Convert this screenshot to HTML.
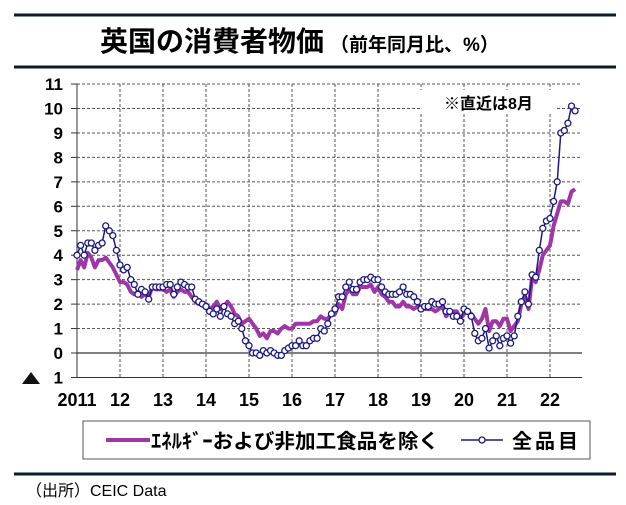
<!DOCTYPE html>
<html><head><meta charset="utf-8"><style>
body{margin:0;background:#fff;width:626px;height:505px;overflow:hidden}
svg{display:block}
text{font-family:"Liberation Sans","Noto Sans CJK JP",sans-serif}
</style></head><body>
<svg id="s" width="626" height="505" viewBox="0 0 626 505">
<line x1="14" y1="15" x2="616" y2="15" stroke="#0d1b2e" stroke-width="3"/>
<line x1="14" y1="67" x2="616" y2="67" stroke="#0d1b2e" stroke-width="3"/>
<text x="100" y="51" font-weight="bold"><tspan font-size="28">英国の消費者物価</tspan><tspan font-size="19" dx="6">（前年同月比、%）</tspan></text>
<g id="g"></g>
<rect x="83" y="421" width="507" height="38" fill="none" stroke="#555" stroke-width="1"/>
<line x1="106" y1="440" x2="150" y2="440" stroke="#a035a8" stroke-width="4"/>
<text x="151" y="448" font-size="20" font-weight="bold" textLength="288" lengthAdjust="spacingAndGlyphs">ｴﾈﾙｷﾞｰおよび非加工食品を除く</text>
<line x1="461" y1="440" x2="503" y2="440" stroke="#1a1a80" stroke-width="1.5"/>
<circle cx="482" cy="440" r="3" fill="#fff" stroke="#1a1a80" stroke-width="1.3"/>
<text x="512" y="448" font-size="20" font-weight="bold" letter-spacing="3">全品目</text>
<line x1="14" y1="474" x2="616" y2="474" stroke="#0d1b2e" stroke-width="3"/>
<text x="26" y="496" font-size="16">（出所）CEIC Data</text>
</svg>
<script>
const g=document.getElementById('g');let h='';
const X0=77,PX=43,Y0=353,PY=24.45,XR=582;
const y=v=>Y0-v*PY;
for(let v=-1;v<=11;v++){const yy=y(v);
 if(v>=1)h+=`<line x1="${X0}" y1="${yy}" x2="${XR}" y2="${yy}" stroke="#555" stroke-dasharray="3,2" stroke-width="1"/>`;
 h+=`<text x="63" y="${yy+6}" font-size="17" font-weight="bold" text-anchor="end">${v==-1?'1':v}</text>`;
 h+=`<line x1="${X0-6}" y1="${yy}" x2="${X0}" y2="${yy}" stroke="#333"/>`;}
h+=`<polygon points="22,384 31,372 40,384" fill="#111"/>`;
const labs=['2011','12','13','14','15','16','17','18','19','20','21','22'];
for(let i=0;i<12;i++){const xx=X0+i*PX;
 if(i>0)h+=`<line x1="${xx}" y1="${y(11)}" x2="${xx}" y2="${y(-1)}" stroke="#555" stroke-dasharray="3,2"/>`;
 h+=`<text x="${xx}" y="406" font-size="18" font-weight="bold" text-anchor="middle">${labs[i]}</text>`;}
h+=`<line x1="${X0}" y1="${y(11)}" x2="${X0}" y2="${y(-1)}" stroke="#333"/>`;
h+=`<line x1="${X0}" y1="${y(-1)}" x2="${XR}" y2="${y(-1)}" stroke="#333"/>`;
h+=`<line x1="${X0}" y1="${Y0}" x2="${XR}" y2="${Y0}" stroke="#333" stroke-width="1.2"/>`;
h+=`<rect x="420" y="90" width="135" height="24" fill="#fff"/><text x="444" y="109" font-size="16" font-weight="bold">※直近は8月</text>`;
const cpi=[4.0,4.4,4.0,4.5,4.5,4.2,4.4,4.5,5.2,5.0,4.8,4.2,3.6,3.4,3.5,3.0,2.8,2.4,2.6,2.5,2.2,2.7,2.7,2.7,2.7,2.8,2.8,2.4,2.7,2.9,2.8,2.7,2.7,2.2,2.1,2.0,1.9,1.7,1.6,1.8,1.5,1.9,1.6,1.5,1.2,1.3,1.0,0.5,0.3,0.0,0.0,-0.1,0.1,0.0,0.1,0.0,-0.1,-0.1,0.1,0.2,0.3,0.3,0.5,0.3,0.3,0.5,0.6,0.6,1.0,0.9,1.2,1.6,1.8,2.3,2.3,2.7,2.9,2.6,2.6,2.9,3.0,3.0,3.1,3.0,3.0,2.7,2.5,2.4,2.4,2.4,2.5,2.7,2.4,2.4,2.3,2.1,1.8,1.9,1.9,2.1,2.0,2.0,2.1,1.7,1.7,1.5,1.5,1.3,1.8,1.7,1.5,0.8,0.5,0.6,1.0,0.2,0.5,0.7,0.3,0.6,0.7,0.4,0.7,1.5,2.1,2.5,2.0,3.2,3.1,4.2,5.1,5.4,5.5,6.2,7.0,9.0,9.1,9.4,10.1,9.9];
const core=[3.4,3.8,3.5,4.1,3.9,3.5,3.8,3.8,3.9,3.7,3.5,3.2,2.9,2.9,2.8,2.5,2.4,2.5,2.3,2.4,2.3,2.7,2.6,2.6,2.6,2.5,2.6,2.3,2.5,2.6,2.5,2.5,2.3,2.1,2.0,2.0,2.0,1.8,1.9,2.1,1.8,1.9,2.1,1.9,1.6,1.5,1.2,1.3,1.4,1.2,1.0,0.7,0.8,0.6,0.9,0.9,0.8,1.0,1.1,1.0,1.0,1.2,1.2,1.2,1.2,1.2,1.3,1.3,1.5,1.4,1.4,1.6,1.6,2.0,1.8,2.4,2.6,2.4,2.4,2.7,2.7,2.7,2.8,2.5,2.7,2.4,2.3,2.1,2.1,1.9,1.9,2.1,1.9,1.9,1.8,1.9,1.9,1.8,1.8,1.8,1.7,1.8,1.9,1.5,1.7,1.7,1.7,1.4,1.6,1.7,1.6,1.4,1.2,1.4,1.8,0.9,1.3,1.3,1.1,1.4,1.4,0.9,1.1,1.3,2.0,2.3,1.8,3.1,2.9,3.4,4.0,4.2,4.4,5.2,5.7,6.2,6.2,6.1,6.6,6.7];
const xm=i=>X0+i*PX/12;
h+=`<polyline fill="none" stroke="#a035a8" stroke-width="4" stroke-linejoin="round" points="${core.map((v,i)=>xm(i).toFixed(1)+','+y(v).toFixed(1)).join(' ')}"/>`;
h+=`<polyline fill="none" stroke="#1a1a80" stroke-width="1.5" points="${cpi.map((v,i)=>xm(i).toFixed(1)+','+y(v).toFixed(1)).join(' ')}"/>`;
cpi.forEach((v,i)=>{h+=`<circle cx="${xm(i).toFixed(1)}" cy="${y(v).toFixed(1)}" r="3" fill="#fff" stroke="#1a1a80" stroke-width="1.3"/>`});
g.innerHTML=h;
</script>
</body></html>
